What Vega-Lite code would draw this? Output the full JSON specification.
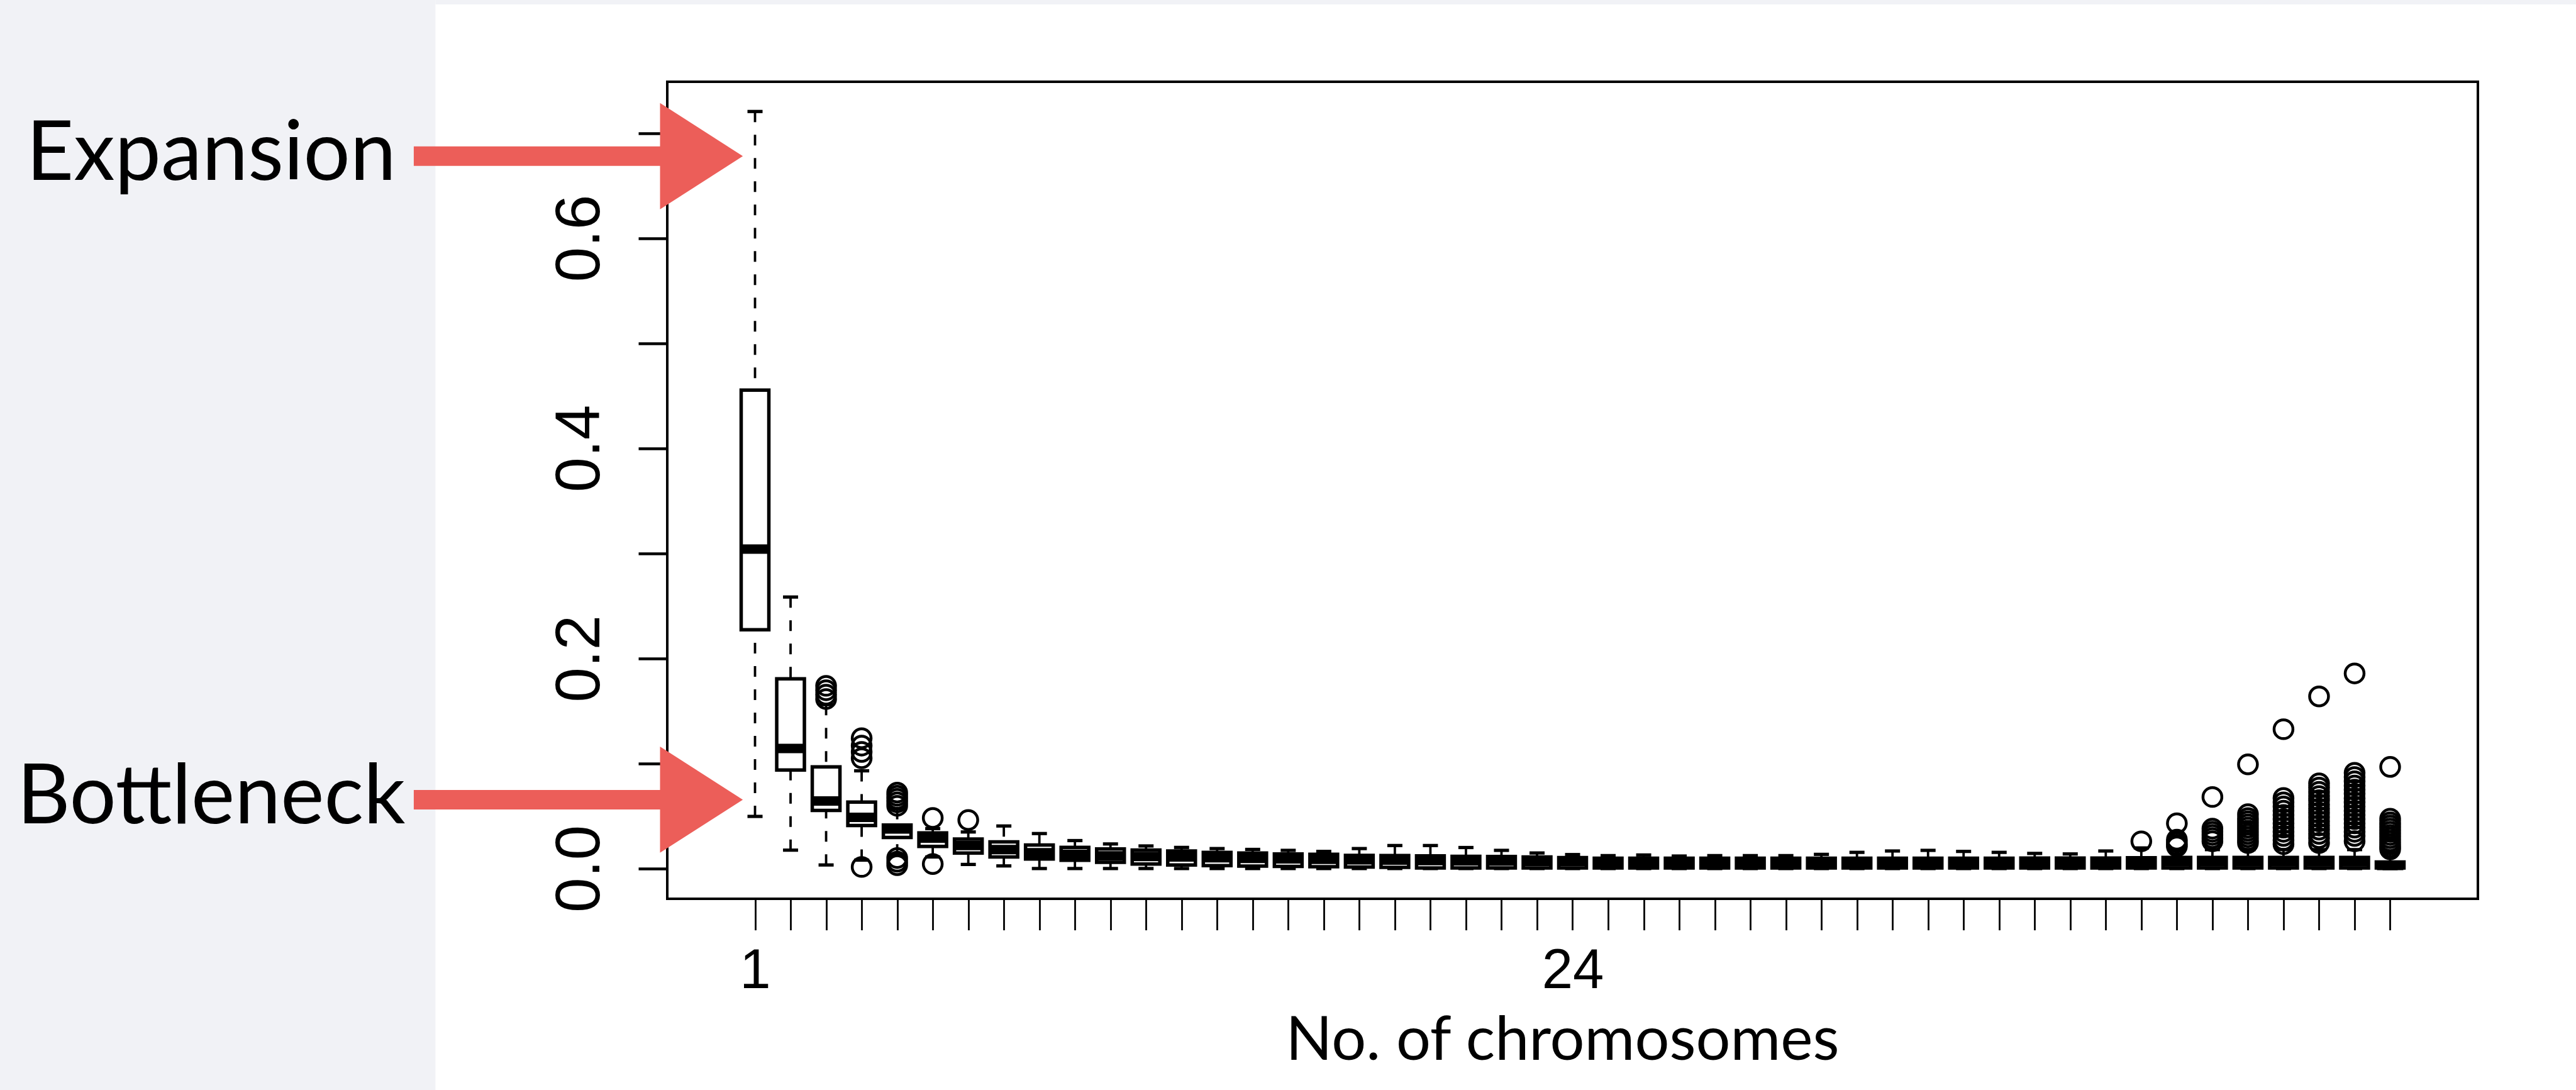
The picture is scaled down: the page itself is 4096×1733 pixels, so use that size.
{
  "$schema": "https://vega.github.io/schema/vega-lite/v6.json",
  "width": 2879,
  "height": 1299,
  "autosize": {"type": "none"},
  "padding": {"left": 1061, "top": 130, "right": 156, "bottom": 304},
  "background": "white",
  "config": {
    "view": {"stroke": "black", "strokeWidth": 4, "fill": null},
    "axis": {"grid": false, "domain": false, "tickColor": "black", "labelColor": "black", "titleColor": "black"}
  },
  "datasets": {
    "boxes": [
      {"pos": 1, "lo": 0.0496, "q1": 0.2273, "med": 0.3041, "q3": 0.4554, "hi": 0.7205},
      {"pos": 2, "lo": 0.0175, "q1": 0.0937, "med": 0.1142, "q3": 0.1805, "hi": 0.2584},
      {"pos": 3, "lo": 0.0034, "q1": 0.0553, "med": 0.0643, "q3": 0.0968, "hi": 0.156},
      {"pos": 4, "lo": 0.008, "q1": 0.041, "med": 0.0487, "q3": 0.0633, "hi": 0.093},
      {"pos": 5, "lo": 0.013, "q1": 0.0296, "med": 0.0376, "q3": 0.0414, "hi": 0.057},
      {"pos": 6, "lo": 0.011, "q1": 0.021, "med": 0.029, "q3": 0.0339, "hi": 0.038},
      {"pos": 7, "lo": 0.0039, "q1": 0.0148, "med": 0.022, "q3": 0.028, "hi": 0.0348},
      {"pos": 8, "lo": 0.0025, "q1": 0.011, "med": 0.018, "q3": 0.0253, "hi": 0.0405},
      {"pos": 9, "lo": 0, "q1": 0.0091, "med": 0.015, "q3": 0.0224, "hi": 0.0333},
      {"pos": 10, "lo": 0, "q1": 0.0078, "med": 0.0135, "q3": 0.0202, "hi": 0.0266},
      {"pos": 11, "lo": 0, "q1": 0.0059, "med": 0.012, "q3": 0.0186, "hi": 0.0234},
      {"pos": 12, "lo": 0, "q1": 0.0043, "med": 0.0115, "q3": 0.0176, "hi": 0.0215},
      {"pos": 13, "lo": 0, "q1": 0.0034, "med": 0.011, "q3": 0.0167, "hi": 0.0201},
      {"pos": 14, "lo": 0, "q1": 0.0028, "med": 0.0102, "q3": 0.0154, "hi": 0.019},
      {"pos": 15, "lo": 0, "q1": 0.0024, "med": 0.0097, "q3": 0.0148, "hi": 0.0182},
      {"pos": 16, "lo": 0, "q1": 0.002, "med": 0.0092, "q3": 0.0139, "hi": 0.0173},
      {"pos": 17, "lo": 0, "q1": 0.0018, "med": 0.0088, "q3": 0.0135, "hi": 0.0163},
      {"pos": 18, "lo": 0, "q1": 0.0015, "med": 0.0083, "q3": 0.0125, "hi": 0.019},
      {"pos": 19, "lo": 0, "q1": 0.0011, "med": 0.008, "q3": 0.0123, "hi": 0.0219},
      {"pos": 20, "lo": 0, "q1": 0.0006, "med": 0.0076, "q3": 0.012, "hi": 0.0219},
      {"pos": 21, "lo": 0, "q1": 0.0006, "med": 0.0073, "q3": 0.0116, "hi": 0.02},
      {"pos": 22, "lo": 0, "q1": 0.0006, "med": 0.0071, "q3": 0.0114, "hi": 0.0173},
      {"pos": 23, "lo": 0, "q1": 0.0006, "med": 0.0068, "q3": 0.011, "hi": 0.0148},
      {"pos": 24, "lo": 0, "q1": 0.0006, "med": 0.0066, "q3": 0.0104, "hi": 0.0133},
      {"pos": 25, "lo": 0, "q1": 0.0006, "med": 0.0062, "q3": 0.0098, "hi": 0.0123},
      {"pos": 26, "lo": 0, "q1": 0.0006, "med": 0.0062, "q3": 0.0098, "hi": 0.0129},
      {"pos": 27, "lo": 0, "q1": 0.0006, "med": 0.0062, "q3": 0.0098, "hi": 0.0119},
      {"pos": 28, "lo": 0, "q1": 0.0006, "med": 0.0062, "q3": 0.0098, "hi": 0.0123},
      {"pos": 29, "lo": 0, "q1": 0.0006, "med": 0.0062, "q3": 0.0098, "hi": 0.0123},
      {"pos": 30, "lo": 0, "q1": 0.0006, "med": 0.0062, "q3": 0.0098, "hi": 0.0123},
      {"pos": 31, "lo": 0, "q1": 0.0006, "med": 0.0062, "q3": 0.0098, "hi": 0.0135},
      {"pos": 32, "lo": 0, "q1": 0.0006, "med": 0.0062, "q3": 0.0098, "hi": 0.0154},
      {"pos": 33, "lo": 0, "q1": 0.0006, "med": 0.0062, "q3": 0.0098, "hi": 0.0167},
      {"pos": 34, "lo": 0, "q1": 0.0006, "med": 0.0062, "q3": 0.0098, "hi": 0.0173},
      {"pos": 35, "lo": 0, "q1": 0.0006, "med": 0.0062, "q3": 0.0098, "hi": 0.0163},
      {"pos": 36, "lo": 0, "q1": 0.0006, "med": 0.0062, "q3": 0.0098, "hi": 0.0154},
      {"pos": 37, "lo": 0, "q1": 0.0006, "med": 0.0062, "q3": 0.01, "hi": 0.0144},
      {"pos": 38, "lo": 0, "q1": 0.0006, "med": 0.0062, "q3": 0.01, "hi": 0.0139},
      {"pos": 39, "lo": 0, "q1": 0.0006, "med": 0.0062, "q3": 0.01, "hi": 0.0167},
      {"pos": 40, "lo": 0, "q1": 0.0006, "med": 0.0062, "q3": 0.0102, "hi": 0.0196},
      {"pos": 41, "lo": 0, "q1": 0.0006, "med": 0.0063, "q3": 0.0105, "hi": 0.018},
      {"pos": 42, "lo": 0, "q1": 0.0006, "med": 0.0063, "q3": 0.0105, "hi": 0.018},
      {"pos": 43, "lo": 0, "q1": 0.0006, "med": 0.0063, "q3": 0.0105, "hi": 0.018},
      {"pos": 44, "lo": 0, "q1": 0.0006, "med": 0.0063, "q3": 0.0105, "hi": 0.018},
      {"pos": 45, "lo": 0, "q1": 0.0006, "med": 0.0063, "q3": 0.0105, "hi": 0.018},
      {"pos": 46, "lo": 0, "q1": 0.0006, "med": 0.0063, "q3": 0.0105, "hi": 0.018},
      {"pos": 47, "lo": 0, "q1": 0.0005, "med": 0.003, "q3": 0.0062, "hi": 0.0155}
    ],
    "outliers": [
      {"pos": 3, "v": 0.1739}, {"pos": 3, "v": 0.1697}, {"pos": 3, "v": 0.1655}, {"pos": 3, "v": 0.1613},
      {"pos": 4, "v": 0.124}, {"pos": 4, "v": 0.117}, {"pos": 4, "v": 0.111}, {"pos": 4, "v": 0.105}, {"pos": 4, "v": 0.0015},
      {"pos": 5, "v": 0.0723}, {"pos": 5, "v": 0.0693}, {"pos": 5, "v": 0.0663}, {"pos": 5, "v": 0.063}, {"pos": 5, "v": 0.0597},
      {"pos": 5, "v": 0.01}, {"pos": 5, "v": 0.0065}, {"pos": 5, "v": 0.0032},
      {"pos": 6, "v": 0.0481}, {"pos": 6, "v": 0.0043},
      {"pos": 7, "v": 0.0462},
      {"pos": 40, "v": 0.0259},
      {"pos": 41, "v": 0.043}, {"pos": 41, "v": 0.0275}, {"pos": 41, "v": 0.025}, {"pos": 41, "v": 0.0225}, {"pos": 41, "v": 0.021},
      {"pos": 42, "v": 0.0681}, {"pos": 42, "v": 0.038}, {"pos": 42, "v": 0.035}, {"pos": 42, "v": 0.032}, {"pos": 42, "v": 0.029}, {"pos": 42, "v": 0.026},
      {"pos": 43, "v": 0.0991}, {"pos": 43, "v": 0.0517}, {"pos": 43, "v": 0.048}, {"pos": 43, "v": 0.045}, {"pos": 43, "v": 0.042}, {"pos": 43, "v": 0.039},
      {"pos": 43, "v": 0.036}, {"pos": 43, "v": 0.033}, {"pos": 43, "v": 0.03}, {"pos": 43, "v": 0.027}, {"pos": 43, "v": 0.0243},
      {"pos": 44, "v": 0.1326}, {"pos": 44, "v": 0.0671}, {"pos": 44, "v": 0.063}, {"pos": 44, "v": 0.059}, {"pos": 44, "v": 0.055}, {"pos": 44, "v": 0.051},
      {"pos": 44, "v": 0.047}, {"pos": 44, "v": 0.043}, {"pos": 44, "v": 0.039}, {"pos": 44, "v": 0.035}, {"pos": 44, "v": 0.031}, {"pos": 44, "v": 0.027}, {"pos": 44, "v": 0.0232},
      {"pos": 45, "v": 0.1638}, {"pos": 45, "v": 0.0811}, {"pos": 45, "v": 0.077}, {"pos": 45, "v": 0.073}, {"pos": 45, "v": 0.069}, {"pos": 45, "v": 0.065},
      {"pos": 45, "v": 0.061}, {"pos": 45, "v": 0.057}, {"pos": 45, "v": 0.053}, {"pos": 45, "v": 0.049}, {"pos": 45, "v": 0.045}, {"pos": 45, "v": 0.041},
      {"pos": 45, "v": 0.037}, {"pos": 45, "v": 0.033}, {"pos": 45, "v": 0.029}, {"pos": 45, "v": 0.0243},
      {"pos": 46, "v": 0.1857}, {"pos": 46, "v": 0.0911}, {"pos": 46, "v": 0.087}, {"pos": 46, "v": 0.083}, {"pos": 46, "v": 0.079}, {"pos": 46, "v": 0.075},
      {"pos": 46, "v": 0.071}, {"pos": 46, "v": 0.067}, {"pos": 46, "v": 0.063}, {"pos": 46, "v": 0.059}, {"pos": 46, "v": 0.055}, {"pos": 46, "v": 0.051},
      {"pos": 46, "v": 0.047}, {"pos": 46, "v": 0.043}, {"pos": 46, "v": 0.039}, {"pos": 46, "v": 0.035}, {"pos": 46, "v": 0.031}, {"pos": 46, "v": 0.026},
      {"pos": 47, "v": 0.0967}, {"pos": 47, "v": 0.0474}, {"pos": 47, "v": 0.044}, {"pos": 47, "v": 0.041}, {"pos": 47, "v": 0.038}, {"pos": 47, "v": 0.035},
      {"pos": 47, "v": 0.032}, {"pos": 47, "v": 0.029}, {"pos": 47, "v": 0.026}, {"pos": 47, "v": 0.023}, {"pos": 47, "v": 0.0205}, {"pos": 47, "v": 0.0183}
    ],
    "notes": [
      {"text": "Expansion", "level": 0.678},
      {"text": "Bottleneck", "level": 0.0655}
    ]
  },
  "layer": [
    {
      "data": {"name": "boxes"},
      "mark": {"type": "rule", "color": "black", "strokeWidth": 3.8, "strokeDash": [17, 20]},
      "encoding": {
        "x": {
          "field": "pos", "type": "quantitative",
          "scale": {"domain": [-1.38, 49.38], "nice": false, "zero": false},
          "axis": {
            "values": [1,2,3,4,5,6,7,8,9,10,11,12,13,14,15,16,17,18,19,20,21,22,23,24,25,26,27,28,29,30,31,32,33,34,35,36,37,38,39,40,41,42,43,44,45,46,47],
            "labelExpr": "datum.value == 1 || datum.value == 24 ? datum.label : ''",
            "tickSize": 49.6, "tickWidth": 2.8,
            "labelFont": "Liberation Sans", "labelFontSize": 88.7, "labelPadding": 22,
            "labelFlush": false, "labelOverlap": false, "labelBound": false,
            "title": "No. of chromosomes", "titleFont": "Lato", "titleFontSize": 97, "titleFontWeight": "normal",
            "titleBaseline": "alphabetic", "titleAlign": "center", "titleX": 1423, "titleY": 255
          }
        },
        "y": {
          "field": "hi", "type": "quantitative",
          "scale": {"domain": [-0.0288, 0.7488], "nice": false, "zero": false},
          "axis": {
            "values": [0, 0.1, 0.2, 0.3, 0.4, 0.5, 0.6, 0.7],
            "labelExpr": "round(datum.value * 10) % 2 == 0 ? format(datum.value, '.1f') : ''",
            "tickSize": 46, "tickWidth": 4.3,
            "labelFont": "Liberation Sans", "labelFontSize": 100, "labelPadding": 42,
            "labelAngle": -90, "labelAlign": "center", "labelBaseline": "bottom",
            "labelFlush": false, "labelOverlap": false, "labelBound": false,
            "title": null
          }
        },
        "y2": {"field": "q3"}
      }
    },
    {
      "data": {"name": "boxes"},
      "mark": {"type": "rule", "color": "black", "strokeWidth": 3.8, "strokeDash": [17, 20]},
      "encoding": {
        "x": {"field": "pos", "type": "quantitative"},
        "y": {"field": "lo", "type": "quantitative"},
        "y2": {"field": "q1"}
      }
    },
    {
      "data": {"values": [{"panel": "left"}]},
      "mark": {"type": "rect", "color": "#F1F2F6", "clip": false},
      "encoding": {
        "x": {"datum": -40},
        "x2": {"datum": -7.99},
        "y": {"datum": -1},
        "y2": {"datum": 2}
      }
    },
    {
      "data": {"values": [{"panel": "top"}]},
      "mark": {"type": "rect", "color": "#F1F2F6", "clip": false},
      "encoding": {
        "x": {"datum": -7.99},
        "x2": {"datum": 60},
        "y": {"datum": 0.8225},
        "y2": {"datum": 2}
      }
    },
    {
      "data": {"name": "boxes"},
      "mark": {"type": "tick", "orient": "horizontal", "color": "black", "opacity": 1, "size": 24, "thickness": 5.2},
      "encoding": {
        "x": {"field": "pos", "type": "quantitative"},
        "y": {"field": "hi", "type": "quantitative"}
      }
    },
    {
      "data": {"name": "boxes"},
      "mark": {"type": "tick", "orient": "horizontal", "color": "black", "opacity": 1, "size": 24, "thickness": 5.2},
      "encoding": {
        "x": {"field": "pos", "type": "quantitative"},
        "y": {"field": "lo", "type": "quantitative"}
      }
    },
    {
      "data": {"name": "boxes"},
      "mark": {"type": "bar", "size": 44, "fill": "white", "stroke": "black", "strokeWidth": 5.5, "opacity": 1},
      "encoding": {
        "x": {"field": "pos", "type": "quantitative"},
        "y": {"field": "q1", "type": "quantitative"},
        "y2": {"field": "q3"}
      }
    },
    {
      "data": {"name": "boxes"},
      "mark": {"type": "tick", "orient": "horizontal", "color": "black", "opacity": 1, "size": 42, "thickness": 15},
      "encoding": {
        "x": {"field": "pos", "type": "quantitative"},
        "y": {"field": "med", "type": "quantitative"}
      }
    },
    {
      "data": {"name": "outliers"},
      "mark": {"type": "point", "shape": "circle", "filled": false, "stroke": "black", "strokeWidth": 4.5, "size": 898, "opacity": 1},
      "encoding": {
        "x": {"field": "pos", "type": "quantitative"},
        "y": {"field": "v", "type": "quantitative"}
      }
    },
    {
      "data": {"name": "notes"},
      "mark": {"type": "rule", "color": "#EC5E59", "strokeWidth": 31, "strokeCap": "butt", "clip": false},
      "encoding": {
        "x": {"datum": -8.6},
        "x2": {"datum": -1.3},
        "y": {"field": "level", "type": "quantitative"}
      }
    },
    {
      "data": {"name": "notes"},
      "mark": {"type": "point", "shape": "M-0.78,-1L0.78,0L-0.78,1Z", "filled": true, "color": "#EC5E59", "opacity": 1, "size": 28493, "clip": false},
      "encoding": {
        "x": {"datum": -0.507},
        "y": {"field": "level", "type": "quantitative"}
      }
    },
    {
      "data": {"name": "notes"},
      "mark": {"type": "text", "font": "Lato", "fontSize": 131, "color": "black", "align": "center", "baseline": "alphabetic", "dy": 38, "clip": false},
      "encoding": {
        "x": {"datum": -14.3},
        "y": {"field": "level", "type": "quantitative"},
        "text": {"field": "text"}
      }
    }
  ]
}
